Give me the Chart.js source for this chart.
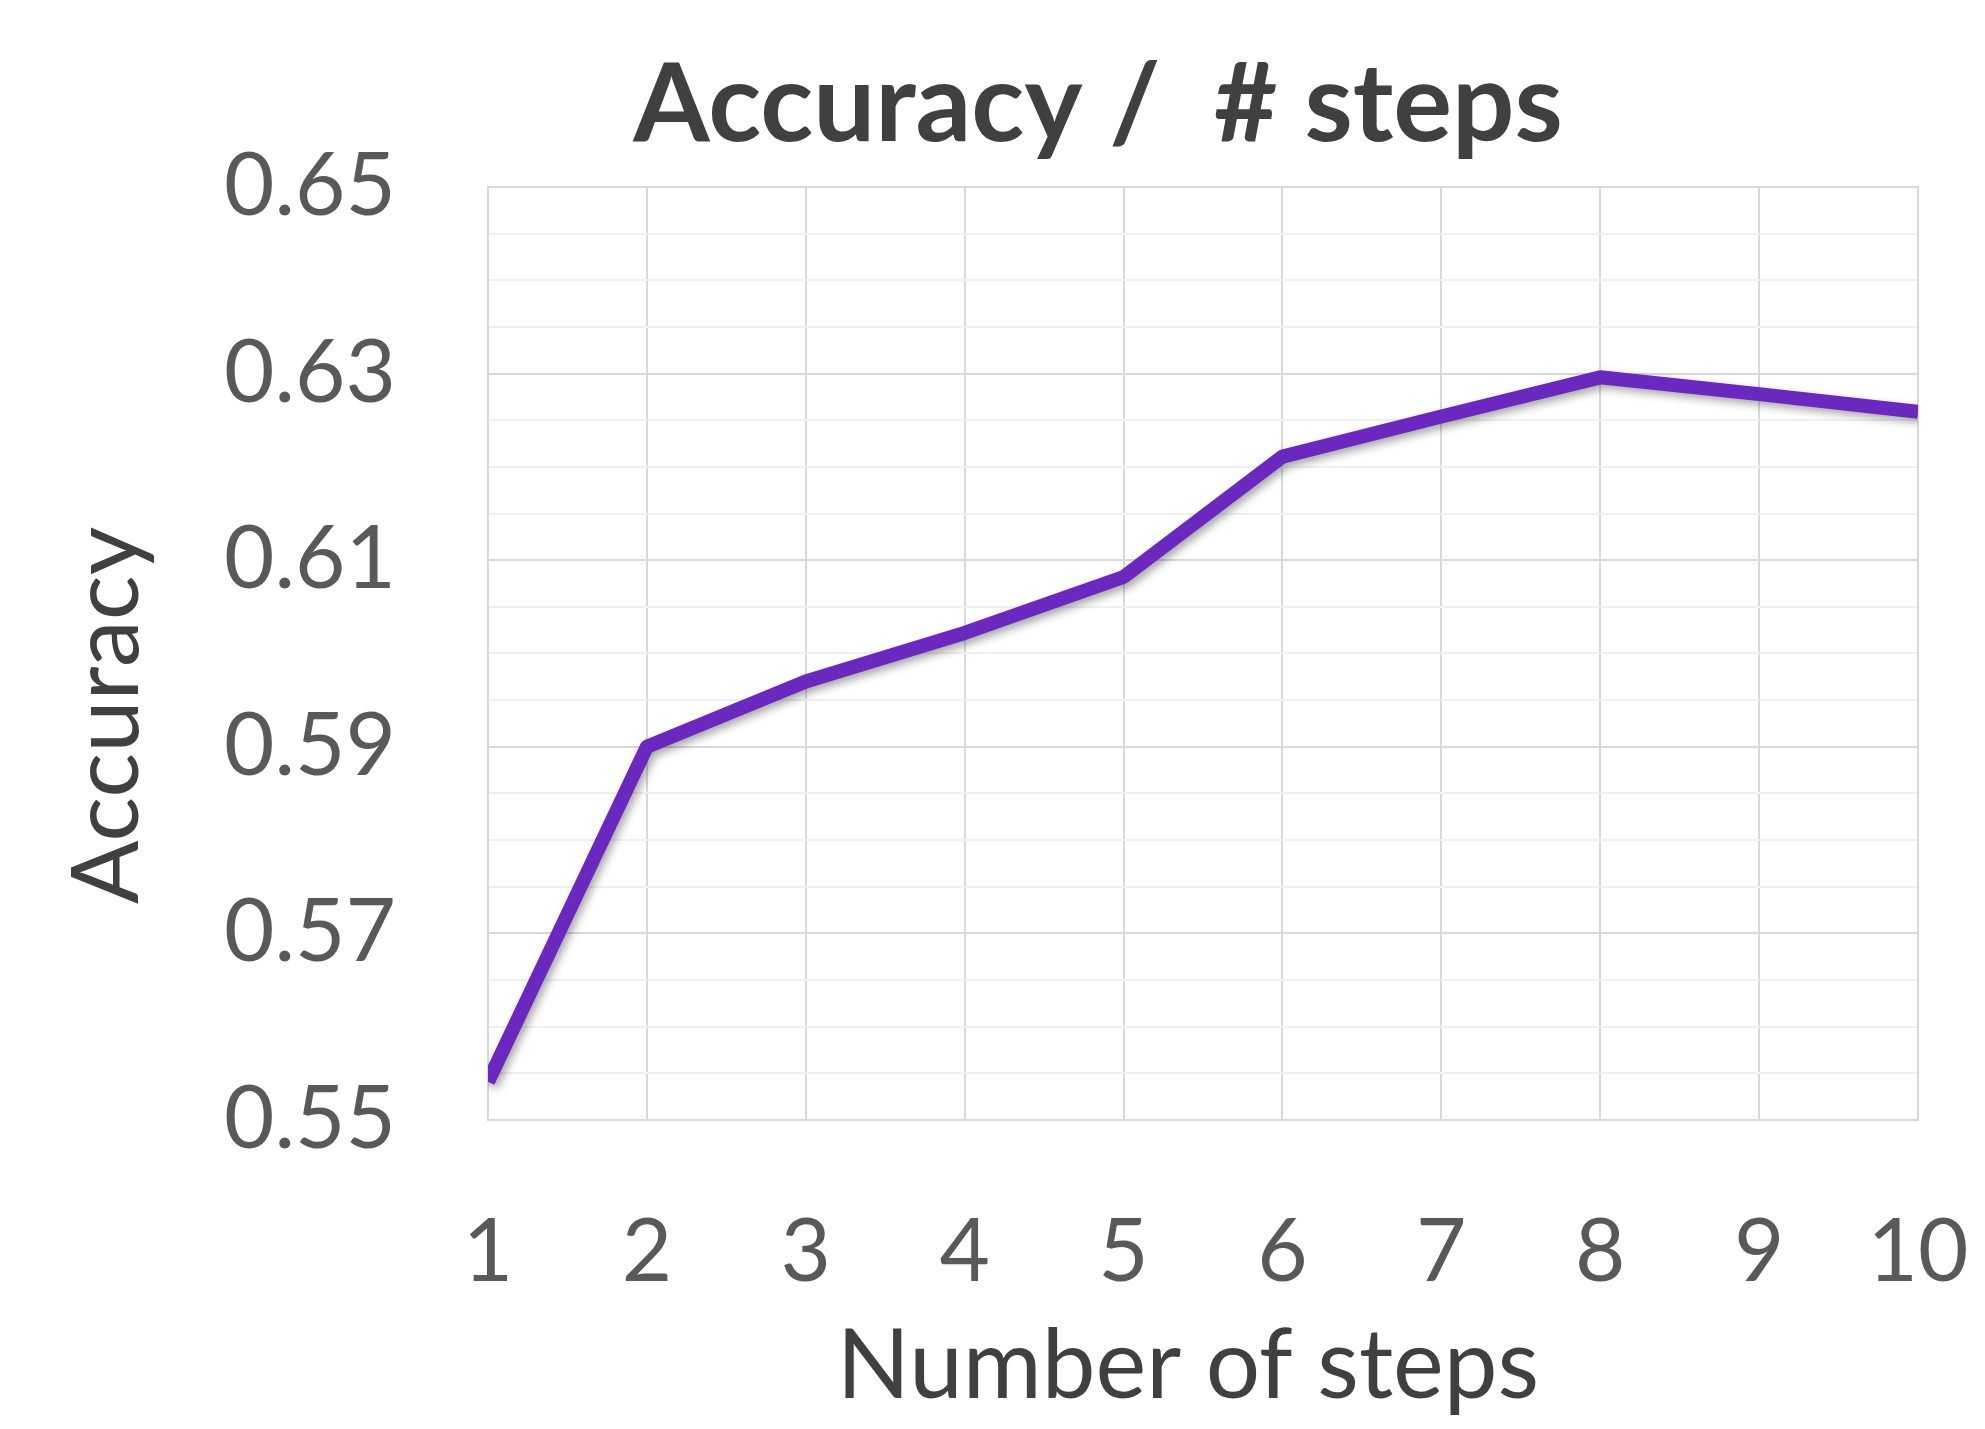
<!DOCTYPE html>
<html>
<head>
<meta charset="utf-8">
<script src="https://cdn.jsdelivr.net/npm/chart.js@4.4.1/dist/chart.umd.min.js"></script>
<style>
  html, body { margin: 0; padding: 0; background: #fff; }
  #wrap { width: 1985px; height: 1429px; }
</style>
</head>
<body>
<div id="wrap"><canvas id="myChart"></canvas></div>
<script>
// data
const steps = ['1', '2', '3', '4', '5', '6', '7', '8', '9', '10'];
const accuracy = [0.5541, 0.5900, 0.5970, 0.6022, 0.6082, 0.6211, 0.6254, 0.6296, 0.6278, 0.6259];
const yLabels = [0.55, 0.57, 0.59, 0.61, 0.63, 0.65];

const font = 'Lato, "Open Sans", sans-serif';

// drop shadow under the line, like the office chart
const lineShadow = {
    id: 'lineShadow',
    beforeDatasetDraw(chart) {
        const c = chart.ctx;
        c.save();
        c.shadowColor = 'rgba(0,0,0,0.35)';
        c.shadowBlur = 8;
        c.shadowOffsetX = 3;
        c.shadowOffsetY = 4;
    },
    afterDatasetDraw(chart) {
        chart.ctx.restore();
    }
};

// titles are not centred on the plot in the original, so draw them here
const titles = {
    id: 'titles',
    afterDraw(chart) {
        const c = chart.ctx, a = chart.chartArea;
        c.save();
        c.fillStyle = '#404040';
        c.textAlign = 'center';
        c.textBaseline = 'middle';
        c.font = 'bold 110px ' + font;
        c.fillText('Accuracy /  # steps', a.left + 610, 106);
        c.font = '96px ' + font;
        c.fillText('Number of steps', (a.left + a.right) / 2 - 15, 1367);
        c.translate(108, (a.top + a.bottom) / 2 + 62);
        c.rotate(-Math.PI / 2);
        c.font = '94px ' + font;
        c.fillText('Accuracy', 0, 0);
        c.restore();
    }
};

const ctx = document.getElementById('myChart');
new Chart(ctx, {
    type: 'line',
    data: {
        labels: steps,
        datasets: [{
            data: accuracy,
            borderColor: '#6a28be',
            borderWidth: 14,
            pointRadius: 0,
            tension: 0,
            borderJoinStyle: 'round',
            clip: 0
        }]
    },
    options: {
        responsive: true,
        maintainAspectRatio: false,
        animation: false,
        layout: { padding: { left: 0, right: 67, top: 187, bottom: 0 } },
        plugins: {
            legend: { display: false },
            tooltip: { enabled: false },
            title: { display: false }
        },
        scales: {
            x: {
                offset: false,
                grid: { color: '#d9d9d9', lineWidth: 2, drawTicks: false },
                border: { display: true, color: '#d9d9d9', width: 2 },
                ticks: {
                    color: '#595959',
                    font: { family: font, size: 87 },
                    padding: 81,
                    maxRotation: 0
                },
                afterFit(scale) {
                    scale.height = 309;
                    scale.paddingLeft = 0;
                    scale.paddingRight = 0;
                }
            },
            y: {
                min: 0.55,
                max: 0.65,
                grid: {
                    drawTicks: false,
                    lineWidth: 2,
                    color: c => yLabels.some(v => Math.abs(v - c.tick.value) < 1e-6) ? '#d9d9d9' : '#f0f0f0'
                },
                border: { display: true, color: '#d9d9d9', width: 2 },
                ticks: {
                    stepSize: 0.005,
                    autoSkip: false,
                    color: '#595959',
                    font: { family: font, size: 87 },
                    padding: 92,
                    callback: v => yLabels.some(t => Math.abs(t - v) < 1e-6) ? v.toFixed(2) : ''
                },
                afterFit(scale) {
                    scale.width = 488;
                    scale.paddingTop = 0;
                    scale.paddingBottom = 0;
                }
            }
        }
    },
    plugins: [lineShadow, titles, {
        // plot border on top and right
        id: 'frame',
        beforeDatasetsDraw(chart) {
            const a = chart.chartArea, c = chart.ctx;
            c.save();
            c.strokeStyle = '#d9d9d9';
            c.lineWidth = 2;
            c.strokeRect(a.left, a.top, a.right - a.left, a.bottom - a.top);
            c.restore();
        }
    }]
});
</script>
</body>
</html>
